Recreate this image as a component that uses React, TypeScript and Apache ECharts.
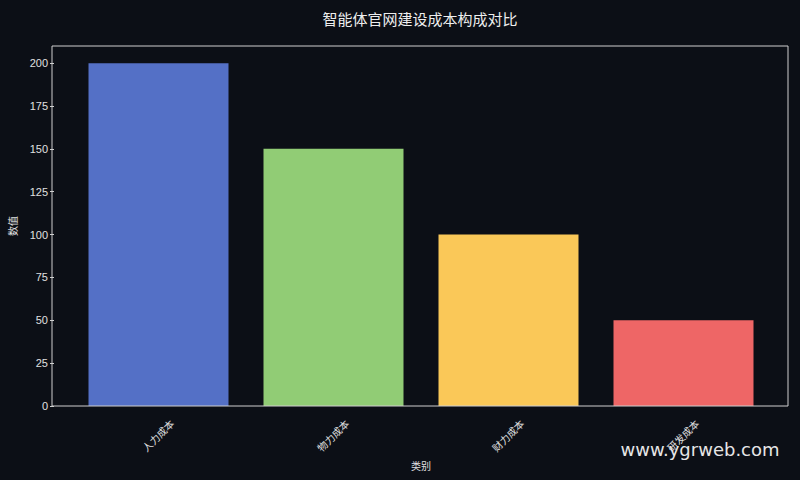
import React, { useEffect, useRef } from 'react';
import * as echarts from 'echarts';

const categories = ['人力成本', '物力成本', '财力成本', '研发成本'];
const values = [200, 150, 100, 50];
const barColors = ['#5470c6', '#91cc75', '#fac858', '#ee6666'];

const font = "'Liberation Sans', 'Noto Sans CJK SC', sans-serif";

const App: React.FC = () => {
  const chartRef = useRef<HTMLDivElement>(null);

  useEffect(() => {
    if (!chartRef.current) return;
    document.body.style.margin = '0';
    const chart = echarts.init(chartRef.current, undefined, { renderer: 'svg' });

    const option = {
      animation: false,
      backgroundColor: '#0c0f16',
      grid: { left: 69, right: 29, top: 46, bottom: 74 },
      graphic: [
        {
          type: 'rect',
          shape: { x: 52, y: 46, width: 736, height: 360 },
          style: { fill: 'none', stroke: '#cfcfcf', lineWidth: 1 },
          z: 10,
        },
        {
          type: 'text',
          x: 420,
          y: 18,
          style: {
            text: '智能体官网建设成本构成对比',
            fill: '#eeeeee',
            fontSize: 15,
            fontFamily: "'Noto Sans CJK SC', sans-serif",
            textAlign: 'center',
            textVerticalAlign: 'middle',
          },
        },
        {
          type: 'text',
          x: 700,
          y: 449,
          z: 20,
          style: {
            text: 'www.ygrweb.com',
            fill: '#e6e6e6',
            fontSize: 18,
            fontFamily: "'DejaVu Sans', sans-serif",
            textAlign: 'center',
            textVerticalAlign: 'middle',
          },
        },
      ],
      xAxis: {
        type: 'category',
        data: categories,
        name: '类别',
        nameLocation: 'middle',
        nameGap: 55,
        nameTextStyle: { color: '#e0e0e0', fontSize: 10, fontFamily: font },
        axisLine: { show: false },
        axisTick: { alignWithLabel: true, length: 4, lineStyle: { color: '#cfcfcf' } },
        axisLabel: {
          rotate: 45,
          align: 'center',
          verticalAlign: 'middle',
          margin: 30,
          color: '#e0e0e0',
          fontSize: 10,
          fontFamily: font,
        },
        splitLine: { show: false },
      },
      yAxis: {
        type: 'value',
        min: 0,
        max: 210,
        interval: 25,
        offset: 17,
        name: '数值',
        nameLocation: 'middle',
        nameGap: 36,
        nameTextStyle: { color: '#e0e0e0', fontSize: 10, fontFamily: font },
        axisLine: { show: false },
        axisTick: { show: true, length: 4, lineStyle: { color: '#cfcfcf' } },
        axisLabel: {
          color: '#e0e0e0',
          fontSize: 11,
          fontFamily: font,
          margin: 6,
          showMaxLabel: false,
        },
        splitLine: { show: false },
      },
      series: [
        {
          type: 'bar',
          barWidth: 140,
          data: values.map((v, i) => ({
            value: v,
            itemStyle: { color: barColors[i] },
          })),
        },
      ],
    };

    chart.setOption(option);

    return () => {
      chart.dispose();
    };
  }, []);

  return <div ref={chartRef} style={{ width: 800, height: 480 }} />;
};

export default App;
